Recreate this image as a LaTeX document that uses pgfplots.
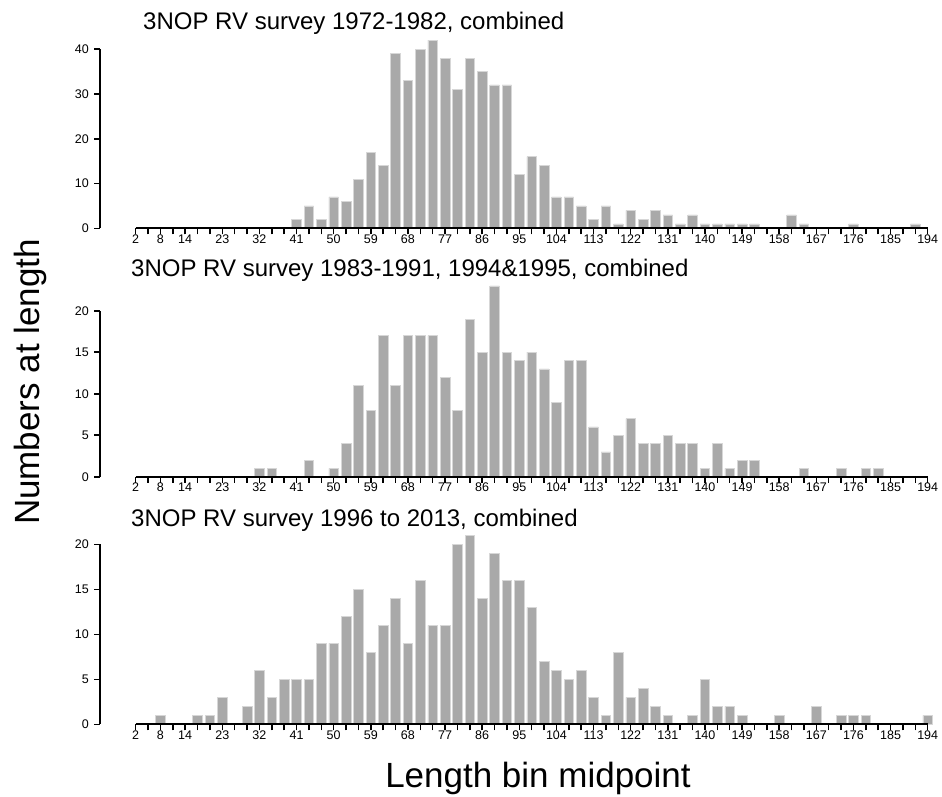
\documentclass[border=0pt]{standalone}
\usepackage{fontspec}
\setmainfont{Liberation Sans}
\usepackage{pgfplots}
\pgfplotsset{compat=1.18}

\definecolor{barcol}{RGB}{169,169,169}
\definecolor{edgecol}{RGB}{215,215,215}

\pgfplotsset{
  hist/.style={
    anchor=south west,
    x=4.125pt,
    xmin=-6.65, xmax=194, ymin=0,
    clip=false,
    axis x line*=bottom, axis y line*=left,
    axis line style={draw=none},
    tick align=outside,
    major tick length=6pt, minor tick length=6pt,
    every tick/.style={black, line width=1.6pt},
    minor tick style={black, line width=1.6pt},
    xtick={2,8,14,23,32,41,50,59,68,77,86,95,104,113,122,131,140,149,158,167,176,185,194},
    minor xtick={2,5,...,194},
    /pgf/number format/assume math mode=true,
    tick label style={font=\fontsize{12.5}{13}\selectfont},
    xticklabel style={inner sep=1pt, yshift=1pt},
    yticklabel style={inner sep=1pt, xshift=-4pt},
    ybar, bar width=9.6pt,
  },
  bars/.style={fill=barcol, draw=edgecol, line width=0.6pt},
}

\begin{document}
\begin{tikzpicture}
\useasboundingbox (0,0) rectangle (942pt,-797pt);

% panel 1
\begin{axis}[hist, at={(100pt,-228.3pt)}, y=4.48pt, ymax=40, ytick={0,10,20,30,40}]
\addplot[bars] coordinates {
(41,2) (44,5) (47,2) (50,7) (53,6) (56,11) (59,17) (62,14) (65,39) (68,33)
(71,40) (74,42) (77,38) (80,31) (83,38) (86,35) (89,32) (92,32) (95,12) (98,16)
(101,14) (104,7) (107,7) (110,5) (113,2) (116,5) (119,1) (122,4) (125,2) (128,4)
(131,3) (134,1) (137,3) (140,1) (143,1) (146,1) (149,1) (152,1) (161,3) (164,1)
(176,1) (191,1)
};
\draw[line width=1.8pt] (axis cs:2,0) -- (axis cs:194,0);
\draw[line width=1.8pt] (axis cs:-6.65,0) -- (axis cs:-6.65,40);
\end{axis}

% panel 2
\begin{axis}[hist, at={(100pt,-476.7pt)}, y=8.3pt, ymax=20, ytick={0,5,10,15,20}]
\addplot[bars] coordinates {
(32,1) (35,1) (44,2) (50,1) (53,4) (56,11) (59,8) (62,17) (65,11) (68,17)
(71,17) (74,17) (77,12) (80,8) (83,19) (86,15) (89,23) (92,15) (95,14) (98,15)
(101,13) (104,9) (107,14) (110,14) (113,6) (116,3) (119,5) (122,7) (125,4) (128,4)
(131,5) (134,4) (137,4) (140,1) (143,4) (146,1) (149,2) (152,2) (164,1) (173,1)
(179,1) (182,1)
};
\draw[line width=1.8pt] (axis cs:2,0) -- (axis cs:194,0);
\draw[line width=1.8pt] (axis cs:-6.65,0) -- (axis cs:-6.65,20);
\end{axis}

% panel 3
\begin{axis}[hist, at={(100pt,-724.3pt)}, y=9.0pt, ymax=20, ytick={0,5,10,15,20}]
\addplot[bars] coordinates {
(8,1) (17,1) (20,1) (23,3) (29,2) (32,6) (35,3) (38,5) (41,5) (44,5)
(47,9) (50,9) (53,12) (56,15) (59,8) (62,11) (65,14) (68,9) (71,16) (74,11)
(77,11) (80,20) (83,21) (86,14) (89,19) (92,16) (95,16) (98,13) (101,7) (104,6)
(107,5) (110,6) (113,3) (116,1) (119,8) (122,3) (125,4) (128,2) (131,1) (137,1)
(140,5) (143,2) (146,2) (149,1) (158,1) (167,2) (173,1) (176,1) (179,1) (194,1)
};
\draw[line width=1.8pt] (axis cs:2,0) -- (axis cs:194,0);
\draw[line width=1.8pt] (axis cs:-6.65,0) -- (axis cs:-6.65,20);
\end{axis}

% titles and labels
\node[anchor=base west, inner sep=0pt, font=\fontsize{24}{26}\selectfont] at (143pt,-30pt) {3NOP RV survey 1972-1982, combined};
\node[anchor=base west, inner sep=0pt, font=\fontsize{24}{26}\selectfont] at (131pt,-276pt) {3NOP RV survey 1983-1991, 1994\&1995, combined};
\node[anchor=base west, inner sep=0pt, font=\fontsize{24}{26}\selectfont] at (131pt,-526pt) {3NOP RV survey 1996 to 2013, combined};
\node[rotate=90, inner sep=0pt, font=\fontsize{35}{38}\selectfont] at (30pt,-382pt) {Numbers at length};
\node[anchor=base, inner sep=0pt, font=\fontsize{35}{38}\selectfont] at (538pt,-787pt) {Length bin midpoint};
\end{tikzpicture}
\end{document}
